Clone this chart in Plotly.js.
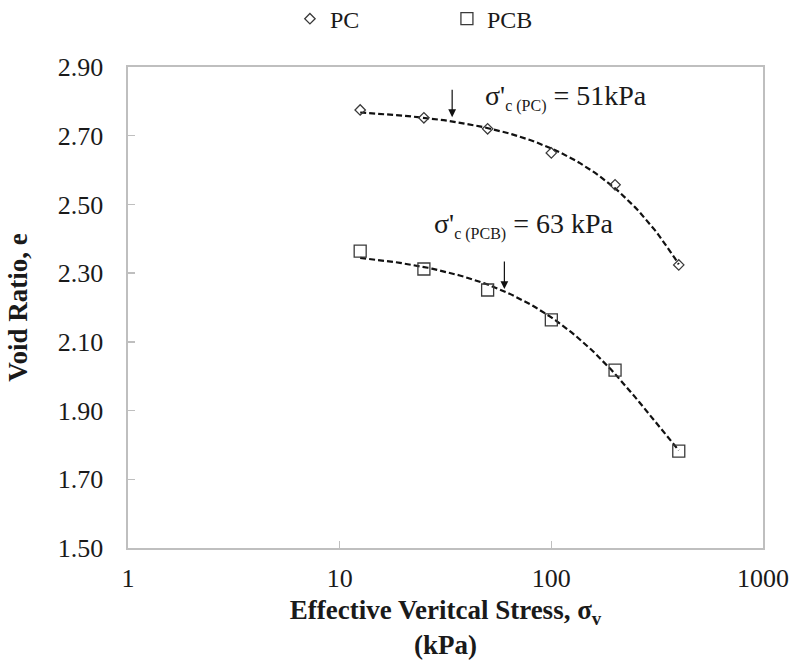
<!DOCTYPE html>
<html>
<head>
<meta charset="utf-8">
<script src="https://cdn.plot.ly/plotly-3.0.1.min.js"></script>
<style>
  html, body { margin: 0; padding: 0; background: #ffffff; }
  #chart { width: 794px; height: 666px; }
</style>
</head>
<body>
<div id="chart"></div>
<script>
// ---- data ----
const stress = [12.5, 25, 50, 100, 200, 400];              // kPa
const voidPC = [2.775, 2.752, 2.720, 2.650, 2.557, 2.324];
const voidPCB = [2.364, 2.312, 2.251, 2.164, 2.018, 1.782];
const seriesNames = ['PC', 'PCB'];
const xTickVals = [1, 10, 100, 1000];
const xTickText = ['1', '10', '100', '1000'];
const arrowStress = [34, 60];        // kPa, where the arrows point
const arrowVoid = [2.754, 2.254];    // void ratio at the arrow tips
const noteMain = ["σ'", "σ'"];
const noteSub = ["c (PC)", "c (PCB)"];
const noteTail = [" = 51kPa", " = 63 kPa"];

// ---- polynomial (order 2) least-squares trendline from the data ----
function polyFit2(xs, ys) {
  let S = [0,0,0,0,0], T = [0,0,0];
  for (let i = 0; i < xs.length; i++) {
    let p = 1;
    for (let k = 0; k < 5; k++) { S[k] += p; if (k < 3) T[k] += p * ys[i]; p *= xs[i]; }
  }
  const A = [[S[0],S[1],S[2],T[0]],[S[1],S[2],S[3],T[1]],[S[2],S[3],S[4],T[2]]];
  for (let c = 0; c < 3; c++) {
    for (let r = c + 1; r < 3; r++) {
      const f = A[r][c] / A[c][c];
      for (let k = c; k < 4; k++) A[r][k] -= f * A[c][k];
    }
  }
  const co = [0,0,0];
  for (let r = 2; r >= 0; r--) {
    let s = A[r][3];
    for (let k = r + 1; k < 3; k++) s -= A[r][k] * co[k];
    co[r] = s / A[r][r];
  }
  return co;
}
function trend(xs, ys) {
  const co = polyFit2(xs, ys);
  const lo = Math.log10(xs[0]), hi = Math.log10(xs[xs.length - 1]);
  const tx = [], ty = [];
  for (let i = 0; i <= 80; i++) {
    const x = Math.pow(10, lo + (hi - lo) * i / 80);
    tx.push(x); ty.push(co[0] + co[1] * x + co[2] * x * x);
  }
  return {tx, ty};
}
const tPC = trend(stress, voidPC);
const tPCB = trend(stress, voidPCB);

const serif = '"Liberation Serif", "Times New Roman", serif';
const ink = '#1a1a1a';
const markCol = '#3a3a3a';

const traces = [
  {x: tPC.tx, y: tPC.ty, mode: 'lines', showlegend: false, hoverinfo: 'skip',
   line: {color: '#111', width: 2.2, dash: '6px,3px'}},
  {x: tPCB.tx, y: tPCB.ty, mode: 'lines', showlegend: false, hoverinfo: 'skip',
   line: {color: '#111', width: 2.2, dash: '6px,3px'}},
  {x: stress, y: voidPC, name: seriesNames[0], mode: 'markers',
   marker: {symbol: 'diamond-open', size: 8, color: markCol, line: {width: 1.3, color: markCol}}},
  {x: stress, y: voidPCB, name: seriesNames[1], mode: 'markers',
   marker: {symbol: 'square-open', size: 12, color: markCol, line: {width: 1.3, color: markCol}}}
];

const annotations = [];
for (let i = 0; i < arrowStress.length; i++) {
  annotations.push({
    x: Math.log10(arrowStress[i]), y: arrowVoid[i], xref: 'x', yref: 'y',
    ax: 0, ay: -29, showarrow: true, arrowhead: 2, arrowsize: 1.3, arrowwidth: 1.2,
    arrowcolor: '#111', text: '', font: {size: 1}
  });
}
const notePos = [[0.559, 0.937], [0.478, 0.671]];
for (let i = 0; i < noteMain.length; i++) {
  annotations.push({xref: 'paper', yref: 'paper', x: notePos[i][0], y: notePos[i][1],
    xanchor: 'left', yanchor: 'middle', showarrow: false,
    text: noteMain[i] + '<sub><span style="font-size:16px">' + noteSub[i] + '</span></sub>' + noteTail[i],
    font: {family: serif, size: 28, color: ink}});
}

const layout = {
  width: 794, height: 666,
  margin: {l: 128, r: 31, t: 67, b: 118, autoexpand: false},
  paper_bgcolor: '#ffffff', plot_bgcolor: '#ffffff',
  font: {family: serif, size: 25, color: ink},
  showlegend: true,
  legend: {orientation: 'h', x: 0.255, xanchor: 'left', y: 1.0996, yanchor: 'middle',
           font: {family: serif, size: 24, color: ink}, entrywidth: 112, entrywidthmode: 'pixels',
           bgcolor: 'rgba(0,0,0,0)'},
  xaxis: {
    type: 'log', range: [0, 3], tickvals: xTickVals, ticktext: xTickText,
    ticks: 'inside', ticklen: 7, tickwidth: 1.3, tickcolor: '#bfbfbf',
    showline: true, linecolor: '#bfbfbf', linewidth: 1.6, mirror: true,
    showgrid: false, zeroline: false, ticklabelstandoff: 6,
    tickfont: {family: serif, size: 26, color: ink},
    title: {text: '<b>Effective Veritcal Stress, σ<sub>v</sub><br>(kPa)</b>',
            font: {family: serif, size: 27, color: ink}, standoff: 8}
  },
  yaxis: {
    range: [1.5, 2.9], tick0: 1.5, dtick: 0.2, tickformat: '.2f',
    ticks: 'inside', ticklen: 7, tickwidth: 1.3, tickcolor: '#bfbfbf',
    showline: true, linecolor: '#bfbfbf', linewidth: 1.6, mirror: true,
    showgrid: false, zeroline: false, ticklabelstandoff: 18,
    tickfont: {family: serif, size: 26, color: ink},
    title: {text: '<b>Void Ratio, e</b>', font: {family: serif, size: 27, color: ink}, standoff: 22}
  },
  annotations: annotations
};

Plotly.newPlot('chart', traces, layout, {displayModeBar: false, staticPlot: true});
</script>
</body>
</html>
